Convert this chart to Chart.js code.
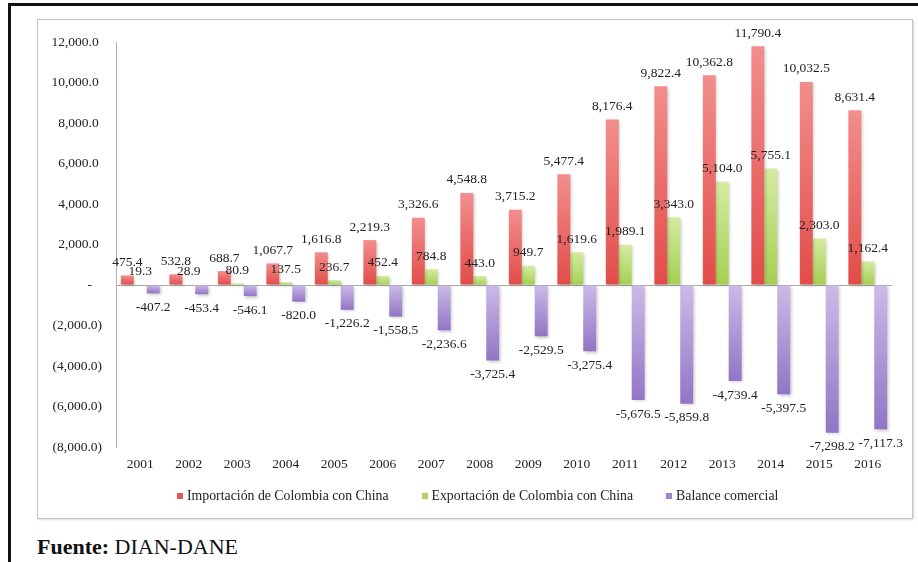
<!DOCTYPE html>
<html>
<head>
<meta charset="utf-8">
<script src="https://cdn.jsdelivr.net/npm/chart.js@4.4.1/dist/chart.umd.min.js"></script>
<style>
  body { margin: 0; background: #fff; width: 918px; height: 562px; overflow: hidden; position: relative; font-family: "Liberation Serif", "Times New Roman", Times, "DejaVu Serif", serif; }
  #frame { position: absolute; left: 8px; top: 3px; width: 930px; height: 580px; border-top: 3px solid #111; border-left: 3px solid #111; }
  #box { position: absolute; left: 37px; top: 19px; width: 874px; height: 498px; border: 1px solid #c4c4c4; box-shadow: 1px 1px 2px rgba(0,0,0,0.15); background: #fff; }
  #legend { position: absolute; left: 177px; top: 488px; height: 16px; display: flex; align-items: center; font-size: 13.8px; line-height: 16px; color: #222; white-space: nowrap; }
  #legend .item { display: flex; align-items: center; margin-right: 33px; }
  #legend .item:last-child { margin-right: 0; }
  #legend .swatch { width: 6px; height: 6px; margin-right: 4px; }
  #source { position: absolute; left: 37px; top: 534px; font-size: 22px; line-height: 26px; color: #111; }
</style>
</head>
<body>
<div id="frame"></div>
<div id="box"><canvas id="chart"></canvas></div>
<div id="legend"></div>
<div id="source"><b>Fuente:</b> DIAN-DANE</div>
<script>
const years = ['2001', '2002', '2003', '2004', '2005', '2006', '2007', '2008',
               '2009', '2010', '2011', '2012', '2013', '2014', '2015', '2016'];
const importaciones = [475.4, 532.8, 688.7, 1067.7, 1616.8, 2219.3, 3326.6, 4548.8,
                       3715.2, 5477.4, 8176.4, 9822.4, 10362.8, 11790.4, 10032.5, 8631.4];
const exportaciones = [19.3, 28.9, 80.9, 137.5, 236.7, 452.4, 784.8, 443.0,
                       949.7, 1619.6, 1989.1, 3343.0, 5104.0, 5755.1, 2303.0, 1162.4];
const balance = [-407.2, -453.4, -546.1, -820.0, -1226.2, -1558.5, -2236.6, -3725.4,
                 -2529.5, -3275.4, -5676.5, -5859.8, -4739.4, -5397.5, -7298.2, -7117.3];

const serif = '"Liberation Serif", "Times New Roman", Times, "DejaVu Serif", serif';

function fmt(v) {
    return v.toLocaleString('en-US', { minimumFractionDigits: 1, maximumFractionDigits: 1 });
}

// each bar gets its own light-to-dark vertical gradient, like the Excel original
function barGradient(light, dark) {
    return function(context) {
        const chart = context.chart;
        if (context.type !== 'data' || !chart.chartArea) return dark;
        const y = chart.scales.y;
        const p1 = y.getPixelForValue(context.raw);
        const p0 = y.getPixelForValue(0);
        const top = Math.min(p0, p1), bottom = Math.max(p0, p1);
        if (bottom - top < 1) return dark;
        const g = chart.ctx.createLinearGradient(0, top, 0, bottom);
        g.addColorStop(0, light);
        g.addColorStop(1, dark);
        return g;
    };
}

const barShadow = {
    id: 'barShadow',
    beforeDatasetDraw(chart) {
        const ctx = chart.ctx;
        ctx.save();
        ctx.shadowColor = 'rgba(0,0,0,0.22)';
        ctx.shadowBlur = 3;
        ctx.shadowOffsetX = 1.5;
        ctx.shadowOffsetY = 1.5;
    },
    afterDatasetDraw(chart) {
        chart.ctx.restore();
    }
};

const valueLabels = {
    id: 'valueLabels',
    afterDatasetsDraw(chart) {
        const ctx = chart.ctx;
        ctx.save();
        ctx.font = '13.5px ' + serif;
        ctx.fillStyle = '#222';
        ctx.textAlign = 'center';
        ctx.textBaseline = 'middle';
        chart.data.datasets.forEach((ds, i) => {
            chart.getDatasetMeta(i).data.forEach((bar, j) => {
                const v = ds.data[j];
                const y = v >= 0 ? bar.y - 13 : bar.y + 14;
                ctx.fillText(fmt(v), bar.x, y);
            });
        });
        ctx.restore();
    }
};

const chart = new Chart(document.getElementById('chart'), {
    type: 'bar',
    data: {
        labels: years,
        datasets: [
            {
                label: 'Importación de Colombia con China',
                data: importaciones,
                legendColor: '#e65552',
                backgroundColor: barGradient('#f28e8c', '#e24c49')
            },
            {
                label: 'Exportación de Colombia con China',
                data: exportaciones,
                legendColor: '#acd663',
                backgroundColor: barGradient('#d4eca0', '#a4d052')
            },
            {
                label: 'Balance comercial',
                data: balance,
                legendColor: '#9d84cc',
                backgroundColor: barGradient('#cbbbe8', '#9275c5')
            }
        ]
    },
    options: {
        responsive: true,
        maintainAspectRatio: false,
        animation: false,
        layout: { padding: { top: 17, right: 20, bottom: 47, left: 0 } },
        datasets: {
            bar: { categoryPercentage: 0.8, barPercentage: 1.0 }
        },
        scales: {
            x: {
                grid: { display: false, drawTicks: false },
                border: { display: false },
                ticks: { color: '#222', padding: 9, font: { family: serif, size: 13.5 } },
                afterFit: scale => { scale.height = 24; }
            },
            y: {
                min: -8000,
                max: 12000,
                ticks: {
                    stepSize: 2000,
                    color: '#222',
                    padding: 14,
                    font: { family: serif, size: 13.5 },
                    callback: v => v === 0 ? '-   ' : v < 0 ? '(' + fmt(-v) + ')' : fmt(v) + ' '
                },
                grid: {
                    drawTicks: false,
                    color: ctx => ctx.tick && ctx.tick.value === 0 ? '#a8a8a8' : 'rgba(0,0,0,0)'
                },
                border: { display: true, color: '#b0b0b0', width: 1 },
                afterFit: scale => { scale.width = 78; }
            }
        },
        plugins: {
            legend: { display: false },
            tooltip: { enabled: false }
        }
    },
    plugins: [barShadow, valueLabels]
});

// legend built from the chart's datasets
const legendEl = document.getElementById('legend');
chart.data.datasets.forEach(ds => {
    const item = document.createElement('span');
    item.className = 'item';
    item.innerHTML = `<span class="swatch" style="background:${ds.legendColor}"></span>${ds.label}`;
    legendEl.appendChild(item);
});
</script>
</body>
</html>
